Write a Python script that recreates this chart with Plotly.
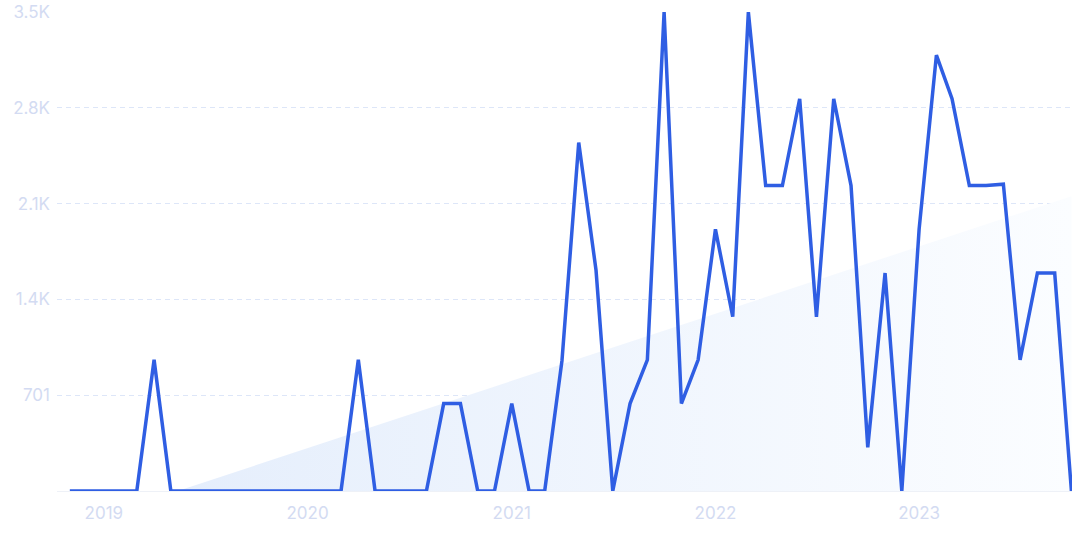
import numpy as np
import pandas as pd
import plotly.graph_objects as go

# Monthly data, Nov 2018 - Oct 2023
months = pd.date_range("2018-11-01", "2023-10-01", freq="MS")
values = [
    0, 0, 0, 0, 0, 960, 0, 0, 0, 0,          # Nov18 - Aug19
    0, 0, 0, 0, 0, 0, 0, 960, 0, 0,          # Sep19 - Jun20
    0, 0, 640, 640, 0, 0, 640, 0, 0, 955,    # Jul20 - Apr21
    2550, 1615, 0, 640, 960, 3505, 640, 960, 1915, 1275,   # May21 - Feb22
    3505, 2235, 2235, 2870, 1275, 2870, 2235, 320, 1595, 0,  # Mar22 - Dec22
    1915, 3190, 2870, 2235, 2235, 2245, 960, 1595, 1595, 0,  # Jan23 - Oct23
]
year_ticks = ["2019-01-01", "2020-01-01", "2021-01-01", "2022-01-01", "2023-01-01"]
year_labels = ["2019", "2020", "2021", "2022", "2023"]
y_ticks = [701, 1402, 2103, 2804, 3505]
y_labels = ["701", "1.4K", "2.1K", "2.8K", "3.5K"]

# Linear trend (least squares) of the series
idx = np.arange(len(values))
slope, intercept = np.polyfit(idx, values, 1)
zero_i = -intercept / slope
k = int(np.floor(zero_i))
frac = zero_i - k
start_date = months[k] + (months[k + 1] - months[k]) * frac
trend_x = [start_date, months[-1]]
trend_y = [0, intercept + slope * idx[-1]]

fig = go.Figure()
fig.add_trace(go.Scatter(
    x=trend_x, y=trend_y, mode="lines", line=dict(width=0),
    fill="tozeroy",
    fillgradient=dict(type="horizontal",
                      colorscale=[[0, "#e5eefc"], [1, "#fbfdff"]]),
    hoverinfo="skip", showlegend=False,
))
fig.add_trace(go.Scatter(
    x=months, y=values, mode="lines",
    line=dict(color="#2f5ee3", width=3.5),
    showlegend=False,
))

tick_font = dict(family="Inter", size=17, color="#d3dbf2")
fig.update_layout(
    width=1075, height=537,
    margin=dict(l=57, r=3, t=12, b=46),
    paper_bgcolor="white", plot_bgcolor="white",
    xaxis=dict(
        type="date",
        range=[pd.Timestamp("2018-10-09"), pd.Timestamp("2023-10-02")],
        tickvals=year_ticks, ticktext=year_labels,
        showgrid=False, zeroline=False, showline=False,
        ticks="", tickfont=tick_font, ticklabelstandoff=10,
    ),
    yaxis=dict(
        range=[0, 3505],
        tickvals=y_ticks, ticktext=y_labels,
        showgrid=True, gridcolor="#dde6f8", gridwidth=1, griddash="5px,4px",
        zeroline=True, zerolinecolor="#eef1f7", zerolinewidth=1,
        showline=False, ticks="", tickfont=tick_font, ticklabelstandoff=6,
    ),
)
fig.write_html("out.html", config={"displayModeBar": False},
               post_script="document.body.style.margin='0';")
